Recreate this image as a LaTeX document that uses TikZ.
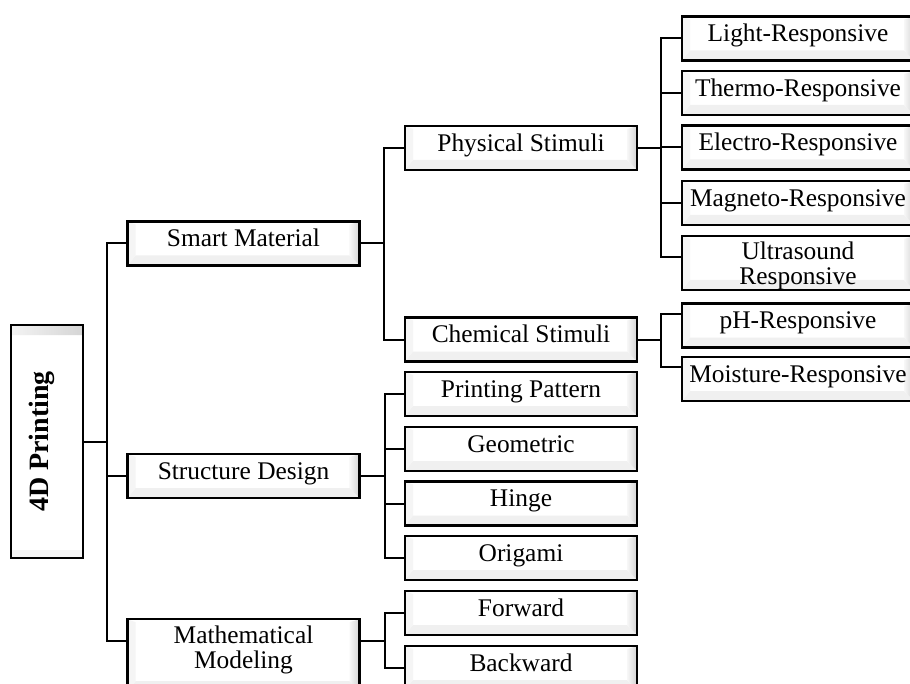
\documentclass[tikz,border=0pt]{standalone}
\usepackage{fontspec}
\setmainfont{Liberation Serif}
\usetikzlibrary{calc,positioning}
\tikzset{
  link/.style={line width=1pt,black},
  box/.style={draw=black,line width=1.2pt,fill=white,align=center,
    font=\fontsize{12.7pt}{12.5pt}\selectfont,
    minimum width=116pt,minimum height=22pt,inner sep=1pt,
    text height=8.8pt,text depth=5.4pt,
    path picture={
      \path (path picture bounding box.south west) coordinate (sw)
            (path picture bounding box.north east) coordinate (ne);
      \fill[black!6] (sw) -- (sw-|ne) -- ++(-5pt,5pt) -- ($(sw)+(4pt,5pt)$) -- cycle;
      \shade[left color=black!3,right color=black!17] (sw-|ne) -- (ne) -- ++(-5pt,-1.5pt) -- ($(sw-|ne)+(-5pt,5pt)$) -- cycle;
      \fill[black!4] (sw) -- (ne-|sw) -- ++(4pt,-1.5pt) -- ($(sw)+(4pt,5pt)$) -- cycle;
    }},
  rootbox/.style={box,rotate=90,font=\fontsize{14pt}{14pt}\selectfont\bfseries,
    minimum width=116.5pt,minimum height=36pt,text height=9.6pt,text depth=8.2pt}
}
\begin{document}
\begin{tikzpicture}[x=0.5pt,y=-0.5pt]
\useasboundingbox (0,0) rectangle (910,684);
\clip (0,0) rectangle (910,684);
% root and first level
\node[rootbox] (root) at (47,441.5) {4D Printing};
\node[box] (smart) at (243.5,243.5) {Smart Material};
\node[box] (struct) at (243.5,476) {Structure Design};
\node[box,anchor=north,minimum height=36pt,text height={},text depth=8.5pt] (math) at (243.5,618) {Mathematical\\Modeling};
% second level
\node[box] (phys) at (521,148) {Physical Stimuli};
\node[box] (chem) at (521,339.5) {Chemical Stimuli};
\node[box] (pattern) at (521,394) {Printing Pattern};
\node[box] (geom) at (521,449) {Geometric};
\node[box] (hinge) at (521,503.5) {Hinge};
\node[box] (origami) at (521,558) {Origami};
\node[box] (fwd) at (521,613) {Forward};
\node[box] (bwd) at (521,668) {Backward};
% third level
\node[box] (light) at (798,38.5) {Light-Responsive};
\node[box] (thermo) at (798,93) {Thermo-Responsive};
\node[box] (electro) at (798,147.5) {Electro-Responsive};
\node[box] (magneto) at (798,203) {Magneto-Responsive};
\node[box,minimum height=27pt,text height={},text depth=0pt] (ultra) at (798,263) {Ultrasound\\Responsive};
\node[box] (ph) at (798,325.5) {pH-Responsive};
\node[box] (moist) at (798,379) {Moisture-Responsive};
% connectors
\draw[link] (root.south) -- ++(23,0) coordinate (t1);
\draw[link] (smart.west) -| (t1) |- ([yshift=7pt]math.west);
\draw[link] (t1) |- (struct.west);
\draw[link] (smart.east) -- ++(23,0) coordinate (t2);
\draw[link] (phys.west) -| (t2) |- (chem.west);
\draw[link] (struct.east) -- ++(24,0) coordinate (t3);
\draw[link] (pattern.west) -| (t3) |- (origami.west);
\draw[link] (t3) |- (geom.west);
\draw[link] (t3) |- (hinge.west);
\draw[link] ([yshift=7pt]math.east) -- ++(24,0) coordinate (t4);
\draw[link] (fwd.west) -| (t4) |- (bwd.west);
\draw[link] (phys.east) -- ++(23,0) coordinate (t5);
\draw[link] (light.west) -| (t5) |- ([yshift=3pt]ultra.west);
\draw[link] (t5) |- (thermo.west);
\draw[link] (t5) |- (electro.west);
\draw[link] (t5) |- (magneto.west);
\draw[link] (chem.east) -- ++(23,0) coordinate (t6);
\draw[link] ([yshift=5.75pt]ph.west) -| (t6) |- ([yshift=6pt]moist.west);
\end{tikzpicture}
\end{document}
